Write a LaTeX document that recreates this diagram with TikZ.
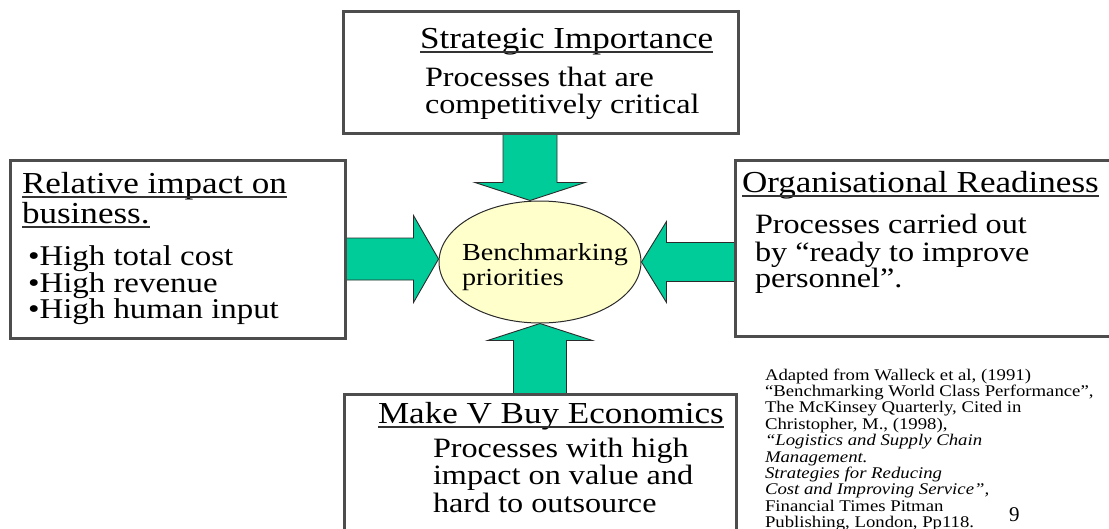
\documentclass[tikz,border=0pt]{standalone}
\usepackage{fontspec}
\setmainfont{Liberation Serif}[FakeStretch=1.15]
\newfontfamily\notefont{Liberation Serif}
\usetikzlibrary{shapes.geometric,calc}
\definecolor{framegray}{HTML}{4D4D4D}
\definecolor{arrowgreen}{HTML}{00CC99}
\definecolor{arrowedge}{HTML}{2B2B2B}
\definecolor{corefill}{HTML}{FFFFCC}
% Broad block arrow from #1 to tip #2: shaft half width #3, head half width #4, head length #5
\newcommand\blockarrowdraw[5]{%
  \path ($(#2)!#5!(#1)$) coordinate (hb);
  \draw[blockarrow]
    ($(#1)!#3!90:(#2)$) -- ($(hb)!#3!90:(#2)$) -- ($(hb)!#4!90:(#2)$) -- (#2)
    -- ($(hb)!#4!-90:(#2)$) -- ($(hb)!#3!-90:(#2)$) -- ($(#1)!#3!-90:(#2)$) -- cycle;
}
\begin{document}
\begin{tikzpicture}[x=1pt,y=-1pt,
  frame/.style={draw=framegray, line width=2pt, inner sep=0pt, anchor=north west},
  blockarrow/.style={fill=arrowgreen, draw=arrowedge, line width=0.9pt, line join=miter},
  txt/.style={anchor=base west, inner sep=0pt, outer sep=0pt, text=black},
  title/.style={txt, font=\fontsize{30.5}{30.5}\selectfont},
  body/.style={txt, font=\fontsize{28}{28}\selectfont},
  bullet/.style={txt, font=\fontsize{28.6}{28.6}\selectfont},
  core/.style={txt, font=\fontsize{24.5}{24.5}\selectfont},
  cite/.style={txt, font=\fontsize{16.3}{16.3}\selectfont},
  uline/.style={draw=black!80, line width=1.3pt}]
\useasboundingbox (0,0) rectangle (1109,528);
\clip (0,0) rectangle (1109,528);

% central ellipse
\node[ellipse, draw=arrowedge, line width=1pt, fill=corefill, inner sep=0pt,
      minimum width=202pt, minimum height=122pt] (core) at (540,262) {};

% the four boxes
\node[frame, minimum width=394pt, minimum height=121pt] (topbox) at (343,11) {};
\node[frame, minimum width=334pt, minimum height=177pt] (leftbox) at (10,160) {};
\node[frame, minimum width=390pt, minimum height=175pt] (rightbox) at (735,160) {};
\node[frame, minimum width=391pt, minimum height=150pt] (botbox) at (344,394) {};

% arrow end points
\coordinate (tS) at ($(core.north |- topbox.south)+(-10,0)$);
\coordinate (tT) at ($(core.north)+(-10,0)$);
\coordinate (lS) at ($(core.west -| leftbox.east)+(0,-3)$);
\coordinate (lT) at ($(core.west)+(0,-3)$);
\coordinate (rS) at (core.east -| rightbox.west);
\coordinate (rT) at (core.east);
\coordinate (bS) at (core.south |- botbox.north);
\coordinate (bT) at (core.south);

\blockarrowdraw{tS}{tT}{27pt}{55pt}{18pt}
\blockarrowdraw{lS}{lT}{21pt}{43.5pt}{25pt}
\blockarrowdraw{rS}{rT}{19.5pt}{40.5pt}{25pt}
\blockarrowdraw{bS}{bT}{26.5pt}{52.5pt}{17pt}

% redraw the box frames over the arrow shafts
\foreach \b in {topbox,leftbox,rightbox,botbox}
  \draw[draw=framegray, line width=2pt] (\b.north west) rectangle (\b.south east);

% ellipse label
\node[core] (c1) at (462,260) {Benchmarking};
\node[core] (c2) at (462,285) {priorities};

% top box
\node[title] (t0) at (420,48) {Strategic Importance};
\draw[uline] ([yshift=-4pt]t0.base west) -- ([yshift=-4pt]t0.base east);
\node[body] (t1) at (425,86) {Processes that are};
\node[body] (t2) at (425,113) {competitively critical};

% left box
\node[title] (l0) at (22,193) {Relative impact on};
\draw[uline] ([yshift=-4pt]l0.base west) -- ([yshift=-4pt]l0.base east);
\node[title] (l00) at (22,223) {business.};
\draw[uline] ([yshift=-4pt]l00.base west) -- ([yshift=-4pt]l00.base east);
\node[bullet] (l1) at (28,265) {•High total cost};
\node[bullet] (l2) at (28,292) {•High revenue};
\node[bullet] (l3) at (28,318) {•High human input};

% right box
\node[title] (r0) at (742,192) {Organisational Readiness};
\draw[uline] ([yshift=-4pt]r0.base west) -- ([yshift=-4pt]r0.base east);
\node[body] (r1) at (755,233) {Processes carried out};
\node[body] (r2) at (755,261) {by “ready to improve};
\node[body] (r3) at (755,287) {personnel”.};

% bottom box
\node[title] (b0) at (378,423) {Make V Buy Economics};
\draw[uline] ([yshift=-4pt]b0.base west) -- ([yshift=-4pt]b0.base east);
\node[body] (b1) at (433,457) {Processes with high};
\node[body] (b2) at (433,484) {impact on value and};
\node[body] (b3) at (433,512) {hard to outsource};

% source note
\foreach \ln [count=\i] in {%
  {Adapted from Walleck et al, (1991)},
  {“Benchmarking World Class Performance”,},
  {The McKinsey Quarterly, Cited in},
  {Christopher, M., (1998),},
  {\itshape “Logistics and Supply Chain},
  {\itshape Management.},
  {\itshape Strategies for Reducing},
  {\itshape Cost and Improving Service”,},
  {Financial Times Pitman},
  {Publishing, London, Pp118.}}
  \node[cite] (s\i) at (765,{380+16.4*(\i-1)}) {\ln};

\node[txt, font=\notefont\fontsize{21}{21}\selectfont] (pg) at (1009,521) {9};
\end{tikzpicture}
\end{document}
